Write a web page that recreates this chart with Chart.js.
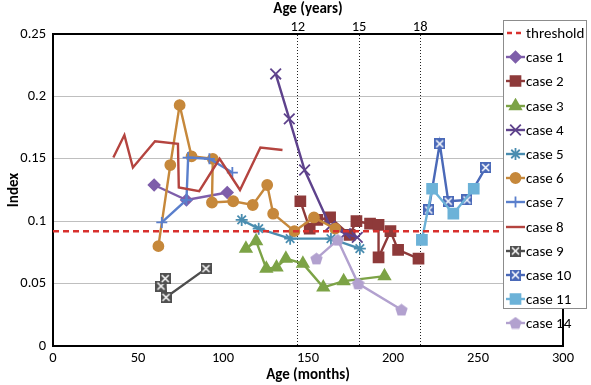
<!DOCTYPE html>
<html><head><meta charset="utf-8">
<script src="https://cdn.jsdelivr.net/npm/chart.js@4.4.1/dist/chart.umd.min.js"></script>
<style>
html,body{margin:0;padding:0;background:#fff;}
#wrap{position:relative;width:591px;height:385px;}
#legend{position:absolute;left:503px;top:20px;width:84px;height:289px;box-sizing:border-box;border:1px solid #8c8c8c;background:#fff;font:15px Carlito,Lato,sans-serif;color:#000;padding-top:0px;}
.item{height:24.2px;display:flex;align-items:center;white-space:nowrap;}
.item canvas{margin-left:2px;margin-right:1px;flex:none;}
</style></head><body>
<div id="wrap"><canvas id="c" width="591" height="385"></canvas><div id="legend"></div></div>
<script>
// ---- data ----
const xTicks = [0, 50, 100, 150, 200, 250, 300];
const yTicks = [0, 0.05, 0.1, 0.15, 0.2, 0.25];
const yearTicks = [12, 15, 18];
const thresholdValue = 0.092;

const case1Months = [59.5, 78.5, 102.5];
const case1Index  = [0.129, 0.117, 0.123];
const case2Months = [145.5, 151, 155.5, 163, 174.5, 178.5, 186.5, 191.5, 191.5, 198.5, 203, 215];
const case2Index  = [0.116, 0.094, 0.101, 0.103, 0.089, 0.100, 0.098, 0.097, 0.071, 0.092, 0.077, 0.070];
const case3Months = [113.5, 119.5, 125.5, 131.5, 137, 147, 159, 171, 195];
const case3Index  = [0.078, 0.084, 0.062, 0.063, 0.070, 0.066, 0.047, 0.052, 0.056];
const case4Months = [131, 139, 148, 163, 172, 179];
const case4Index  = [0.218, 0.182, 0.141, 0.096, 0.090, 0.087];
const case5Months = [111, 121, 139.5, 163.5, 180.5];
const case5Index  = [0.101, 0.094, 0.086, 0.086, 0.078];
const case6Months = [62, 69, 74.5, 81.5, 94, 93.5, 106, 117.5, 126, 129.5, 142, 153.5, 166];
const case6Index  = [0.080, 0.145, 0.193, 0.152, 0.150, 0.115, 0.116, 0.113, 0.129, 0.106, 0.092, 0.103, 0.094];
const case7Months = [64, 78.5, 79.5, 92, 105.5];
const case7Index  = [0.099, 0.117, 0.151, 0.150, 0.139];
const case8Months = [35.5, 42, 47, 60, 73.5, 74, 86, 98, 110, 122, 135];
const case8Index  = [0.151, 0.169, 0.143, 0.164, 0.162, 0.127, 0.124, 0.150, 0.125, 0.159, 0.157];
const case9Months = [63.5, 66, 66.5, 90];
const case9Index  = [0.048, 0.054, 0.039, 0.062];
const case10Months = [221, 227.5, 232.5, 243.5, 254.5];
const case10Index  = [0.109, 0.162, 0.116, 0.117, 0.143];
const case11Months = [217, 223, 235.5, 247.5];
const case11Index  = [0.085, 0.126, 0.106, 0.126];
const case14Months = [155, 167.5, 179.5, 205];
const case14Index  = [0.070, 0.085, 0.050, 0.029];

// ---- custom markers ----
function boxX(fill, size) {
  const c = document.createElement('canvas'); c.width = size; c.height = size;
  const g = c.getContext('2d');
  g.fillStyle = fill; g.fillRect(0, 0, size, size);
  g.strokeStyle = '#ffffff'; g.lineWidth = 1.5;
  g.beginPath(); g.moveTo(2, 2); g.lineTo(size - 2, size - 2); g.moveTo(size - 2, 2); g.lineTo(2, size - 2); g.stroke();
  return c;
}
function pentagon(fill, size) {
  const c = document.createElement('canvas'); c.width = size; c.height = size;
  const g = c.getContext('2d');
  g.fillStyle = fill; g.beginPath();
  const r = size / 2, cx = size / 2, cy = size / 2 + 0.5;
  for (let i = 0; i < 5; i++) {
    const a = -Math.PI / 2 + i * 2 * Math.PI / 5;
    const px = cx + r * Math.cos(a), py = cy + r * Math.sin(a);
    if (i === 0) g.moveTo(px, py); else g.lineTo(px, py);
  }
  g.closePath(); g.fill();
  return c;
}

const series = [
  {label: 'threshold', months: [0, 300], index: [thresholdValue, thresholdValue], color: '#D8312E', style: false, r: 0, dash: [6, 4]},
  {label: 'case 1', months: case1Months, index: case1Index, color: '#7E5EAA', style: 'rectRot', r: 5.5},
  {label: 'case 2', months: case2Months, index: case2Index, color: '#8E3A3A', style: 'rect', r: 7},
  {label: 'case 3', months: case3Months, index: case3Index, color: '#7CA346', style: 'triangle', r: 6.5},
  {label: 'case 4', months: case4Months, index: case4Index, color: '#5E428C', style: 'crossRot', r: 7.5},
  {label: 'case 5', months: case5Months, index: case5Index, color: '#4A8DB0', style: 'star', r: 6},
  {label: 'case 6', months: case6Months, index: case6Index, color: '#C6883B', style: 'circle', r: 5},
  {label: 'case 7', months: case7Months, index: case7Index, color: '#5A7FCC', style: 'cross', r: 5.5},
  {label: 'case 8', months: case8Months, index: case8Index, color: '#B4443F', style: false, r: 0},
  {label: 'case 9', months: case9Months, index: case9Index, color: '#4D4D4D', style: boxX('#505050', 11), r: 5.5},
  {label: 'case 10', months: case10Months, index: case10Index, color: '#4A69B8', style: boxX('#4A69B8', 11), r: 5.5},
  {label: 'case 11', months: case11Months, index: case11Index, color: '#6CB2D8', style: 'rect', r: 7},
  {label: 'case 14', months: case14Months, index: case14Index, color: '#B2A1CF', style: pentagon('#B2A1CF', 13), r: 6.5}
];

const FONT = 'Carlito, Lato, sans-serif';
Chart.defaults.font.family = FONT;
Chart.defaults.color = '#000';

const datasets = series.map((s, i) => ({
  label: s.label,
  data: s.months.map((m, k) => ({x: m, y: s.index[k]})),
  borderColor: s.color,
  backgroundColor: s.color,
  borderWidth: 2.4,
  borderDash: s.dash || [],
  pointStyle: s.style,
  pointRadius: s.style ? s.r : 0,
  pointHoverRadius: s.style ? s.r : 0,
  pointBorderWidth: 1.8,
  pointBackgroundColor: s.color,
  pointBorderColor: s.color,
  tension: 0,
  xAxisID: 'x',
  yAxisID: 'y',
  order: i === 0 ? -1 : series.length - i
}));

const frame = {
  id: 'frame',
  afterDraw(chart) {
    const {ctx, chartArea: a} = chart;
    ctx.save(); ctx.strokeStyle = '#000'; ctx.lineWidth = 2;
    ctx.beginPath(); ctx.moveTo(a.right, a.top); ctx.lineTo(a.right, a.bottom); ctx.stroke();
    ctx.restore();
  }
};

new Chart(document.getElementById('c'), {
  type: 'line',
  data: {datasets},
  plugins: [frame],
  options: {
    responsive: false,
    animation: false,
    events: [],
    layout: {padding: {left: 0, right: 28, top: 0, bottom: 0}},
    plugins: {legend: {display: false}, tooltip: {enabled: false}},
    scales: {
      x: {
        type: 'linear', position: 'bottom', min: 0, max: 300,
        afterBuildTicks: sc => { sc.ticks = xTicks.map(v => ({value: v})); },
        afterFit: sc => { sc.height = 39; },
        grid: {display: false, drawTicks: false},
        border: {display: true, color: '#000', width: 2},
        ticks: {autoSkip: false, maxRotation: 0, padding: 4, font: {size: 14.5, family: FONT}},
        title: {display: true, text: 'Age (months)', font: {size: 15, weight: 'bold', family: FONT}, padding: {top: 0, bottom: 1}}
      },
      x2: {
        type: 'linear', position: 'top', min: 0, max: 300,
        afterBuildTicks: sc => { sc.ticks = yearTicks.map(v => ({value: v * 12})); },
        afterFit: sc => { sc.height = 34; },
        grid: {display: true, drawOnChartArea: true, drawTicks: false, color: '#222', lineWidth: 1},
        border: {display: true, color: '#000', width: 2, dash: [1, 2]},
        ticks: {autoSkip: false, maxRotation: 0, padding: -2, font: {size: 14.5, family: FONT}, callback: v => String(Math.round(v / 12))},
        title: {display: true, text: 'Age (years)', font: {size: 15, weight: 'bold', family: FONT}, padding: {top: 0, bottom: 0}}
      },
      y: {
        type: 'linear', position: 'left', min: 0, max: 0.25,
        afterBuildTicks: sc => { sc.ticks = yTicks.map(v => ({value: v})); },
        afterFit: sc => { sc.width = 53; },
        grid: {color: '#BFBFBF', lineWidth: 1, drawTicks: false},
        border: {display: true, color: '#000', width: 2},
        ticks: {autoSkip: false, padding: 7, font: {size: 14.5, family: FONT}, callback: v => String(Number(v.toFixed(2)))},
        title: {display: true, text: 'Index', font: {size: 15, weight: 'bold', family: FONT}, padding: {top: 5, bottom: 0}}
      }
    }
  }
});

// ---- HTML legend ----
const legend = document.getElementById('legend');
series.forEach(s => {
  const item = document.createElement('div'); item.className = 'item';
  const cv = document.createElement('canvas'); cv.width = 19; cv.height = 16;
  const g = cv.getContext('2d');
  g.strokeStyle = s.color; g.fillStyle = s.color; g.lineWidth = 2.4;
  if (s.dash) g.setLineDash([5, 4]);
  g.beginPath(); g.moveTo(s.dash ? 1 : 0, 8); g.lineTo(19, 8); g.stroke();
  g.setLineDash([]);
  if (s.style) {
    if (typeof s.style !== 'string') {
      g.drawImage(s.style, 9.5 - s.style.width / 2, 8 - s.style.height / 2);
    } else if (Chart.helpers && Chart.helpers.drawPoint) {
      g.lineWidth = 1.8;
      Chart.helpers.drawPoint(g, {pointStyle: s.style, radius: s.r, rotation: 0, borderWidth: 1.8}, 9.5, 8);
    }
  }
  const sp = document.createElement('span'); sp.textContent = s.label;
  item.appendChild(cv); item.appendChild(sp);
  legend.appendChild(item);
});
</script>
</body></html>
